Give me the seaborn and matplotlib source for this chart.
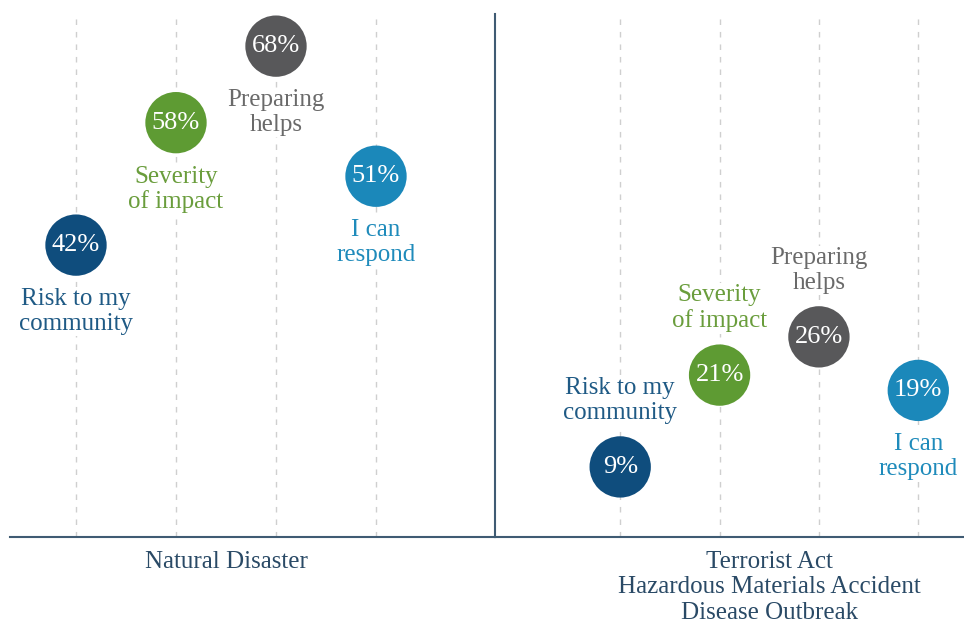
import matplotlib.pyplot as plt
import seaborn as sns
import pandas as pd

# data
measures = ["Risk to my\ncommunity", "Severity\nof impact", "Preparing\nhelps", "I can\nrespond"]
natural_pct = [42, 58, 68, 51]
other_pct = [9, 21, 26, 19]
group_labels = ["Natural Disaster", "Terrorist Act\nHazardous Materials Accident\nDisease Outbreak"]

circle_colors = ["#0f4d7d", "#5e9b33", "#58585a", "#1b88ba"]
text_colors = ["#1f5a85", "#6a9d3c", "#6a6a6a", "#1f8bbb"]
label_above = [[False, False, False, False], [True, True, True, False]]

sns.set_theme(style="white")
plt.rcParams["font.family"] = ["Liberation Serif", "DejaVu Serif"]

fig = plt.figure(figsize=(9.64, 6.22), dpi=100)
W, H = 964, 622
ax1 = fig.add_axes([10 / W, 85 / H, 485 / W, 523 / H])
ax2 = fig.add_axes([495 / W, 85 / H, 469 / W, 523 / H])

# x/y limits per panel, tuned so circles land where they sit in the picture
panels = [
    (ax1, natural_pct, (-0.66, 4.19), (3.86, 72.2)),
    (ax2, other_pct, (-1.26, 3.46), (-0.16, 68.2)),
]

for i, (ax, pct, xlim, ylim) in enumerate(panels):
    df = pd.DataFrame({"x": range(len(measures)), "pct": pct, "measure": measures})
    for xv in df["x"]:
        ax.axvline(xv, color="#cfcfcf", lw=1, ls=(0, (4, 5)), zorder=0)
    sns.scatterplot(data=df, x="x", y="pct", hue="measure", palette=circle_colors,
                    s=1950, edgecolor="none", legend=False, ax=ax, zorder=3)
    for j, row in df.iterrows():
        ax.text(row["x"], row["pct"], f"{row['pct']}%", color="white", fontsize=19,
                ha="center", va="center", zorder=4)
        if label_above[i][j]:
            ax.annotate(row["measure"], (row["x"], row["pct"]), xytext=(0, 31),
                        textcoords="offset points", ha="center", va="bottom",
                        color=text_colors[j], fontsize=18, linespacing=1.15, zorder=2,
                        bbox=dict(fc="white", ec="none", pad=1))
        else:
            ax.annotate(row["measure"], (row["x"], row["pct"]), xytext=(0, -31),
                        textcoords="offset points", ha="center", va="top",
                        color=text_colors[j], fontsize=18, linespacing=1.15, zorder=2,
                        bbox=dict(fc="white", ec="none", pad=1))

    ax.set_xlim(*xlim)
    ax.set_ylim(*ylim)
    ax.set_xticks([1.5])
    ax.set_xticklabels([group_labels[i]], fontsize=18, color="#2a4a66", linespacing=1.2)
    ax.tick_params(axis="x", length=0, pad=10)
    ax.set_yticks([])
    ax.set_xlabel("")
    ax.set_ylabel("")
    for side in ["top", "left", "right"]:
        ax.spines[side].set_visible(False)
    ax.spines["bottom"].set_color("#3f5b73")
    ax.spines["bottom"].set_linewidth(1.5)
    ax.patch.set_alpha(0)

# divider between the two groups
ax1.spines["right"].set_visible(True)
ax1.spines["right"].set_color("#3f5b73")
ax1.spines["right"].set_linewidth(1.5)

fig.savefig("out.png", dpi=100, facecolor="white")
